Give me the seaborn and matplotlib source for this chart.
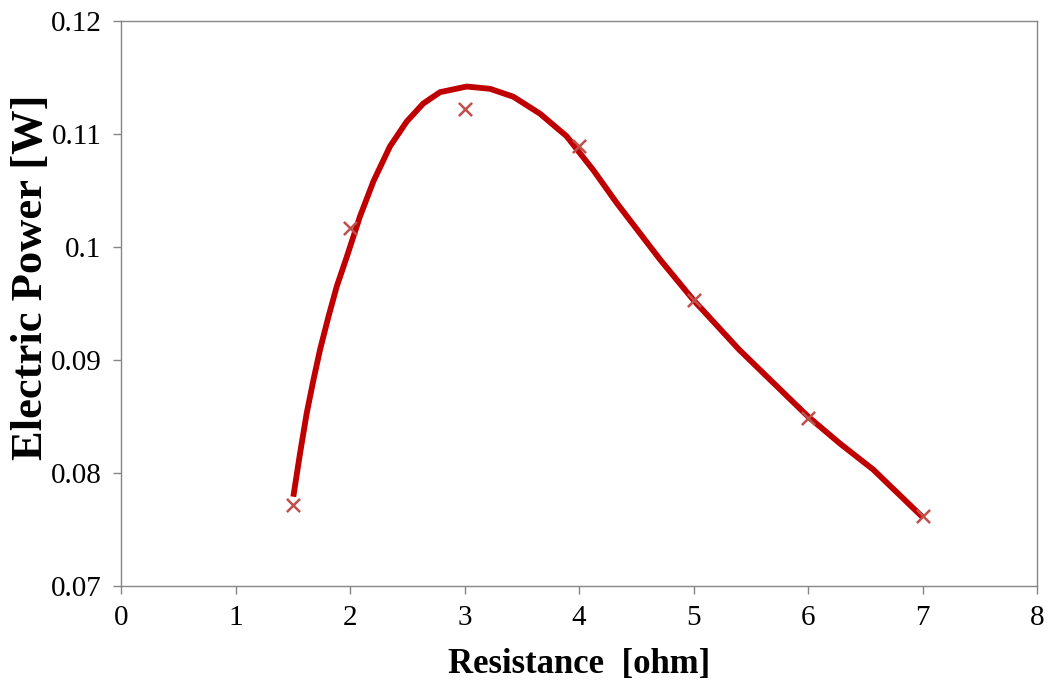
import matplotlib
matplotlib.use("Agg")
import matplotlib.pyplot as plt
import seaborn as sns
import pandas as pd

# Measured data points
resistance = [1.5, 2, 3, 4, 5, 6, 7]
power = [0.0772, 0.1017, 0.1122, 0.1089, 0.0953, 0.0849, 0.0762]

# Fitted curve
curve_r = [1.505, 1.563, 1.622, 1.680, 1.738, 1.811, 1.884, 1.971, 2.087,
           2.204, 2.349, 2.495, 2.640, 2.786, 3.019, 3.223, 3.426, 3.659,
           3.892, 4.125, 4.329, 4.707, 5.000, 5.400, 6.000, 6.280, 6.570, 7.000]
curve_p = [0.0779, 0.0817, 0.0853, 0.0882, 0.0909, 0.0938, 0.0965, 0.0991,
           0.1027, 0.1058, 0.1089, 0.1111, 0.1127, 0.1137, 0.1142, 0.1140,
           0.1133, 0.1118, 0.1098, 0.1068, 0.1039, 0.0989, 0.0953, 0.0909,
           0.0850, 0.0826, 0.0803, 0.0761]

x_ticks = [0, 1, 2, 3, 4, 5, 6, 7, 8]
y_ticks = [0.07, 0.08, 0.09, 0.1, 0.11, 0.12]
y_tick_labels = ["0.07", "0.08", "0.09", "0.1", "0.11", "0.12"]

sns.set_theme(style="white")
plt.rcParams["font.family"] = ["Liberation Serif", "DejaVu Serif"]
plt.rcParams["text.color"] = "black"
plt.rcParams["xtick.color"] = "black"
plt.rcParams["ytick.color"] = "black"
plt.rcParams["axes.labelcolor"] = "black"

fig = plt.figure(figsize=(10.48, 6.86), dpi=100)
ax = fig.add_axes([121 / 1048, 1 - 586 / 686, (1037 - 121) / 1048, (586 - 21) / 686])

df_curve = pd.DataFrame({"r": curve_r, "p": curve_p})
df_pts = pd.DataFrame({"r": resistance, "p": power})

sns.lineplot(data=df_curve, x="r", y="p", ax=ax, color="#C00000", linewidth=4.2,
             sort=False, estimator=None, solid_joinstyle="round",
             solid_capstyle="butt")
sns.scatterplot(data=df_pts, x="r", y="p", ax=ax, marker="x", color="#C0504D",
                s=90, linewidth=1.8, zorder=3)

ax.set_xlim(0, 8)
ax.set_ylim(0.07, 0.12)
ax.set_xticks(x_ticks)
ax.set_xticklabels([str(t) for t in x_ticks])
ax.set_yticks(y_ticks)
ax.set_yticklabels(y_tick_labels)
ax.tick_params(axis="both", direction="out", length=6, width=1, color="#868686",
               labelcolor="black", labelsize=21, pad=8, left=True, bottom=True)
for sp in ax.spines.values():
    sp.set_color("#868686")
    sp.set_linewidth(1)

ax.set_xlabel("Resistance  [ohm]", fontsize=25, fontweight="bold", labelpad=12)
ax.set_ylabel("Electric Power [W]", fontsize=32, fontweight="bold")
ax.yaxis.set_label_coords(-0.076, 0.547)

fig.savefig("out.png", dpi=100)
